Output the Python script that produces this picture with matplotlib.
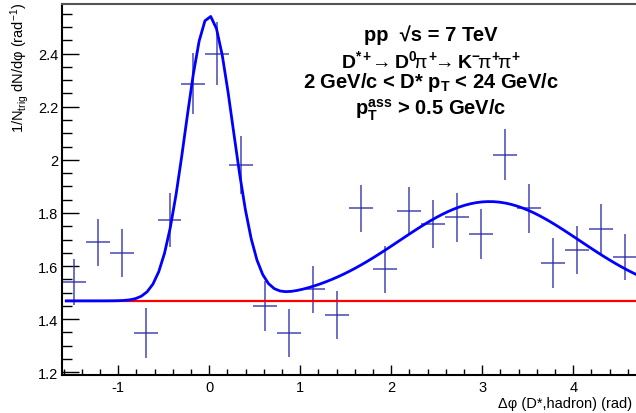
import numpy as np
import matplotlib
matplotlib.use('Agg')
import matplotlib.pyplot as plt
from matplotlib.ticker import MultipleLocator, FuncFormatter

plt.rcParams['font.family'] = ['Liberation Sans', 'DejaVu Sans']
plt.rcParams['mathtext.fontset'] = 'custom'
plt.rcParams['mathtext.rm'] = 'Liberation Sans'
plt.rcParams['mathtext.it'] = 'Liberation Sans'
plt.rcParams['mathtext.bf'] = 'Liberation Sans:bold'
plt.rcParams['axes.unicode_minus'] = False

# Data points: bin centres (rad), per-trigger yield, stat. errors
dphi = [-1.487, -1.226, -0.963, -0.699, -0.437, -0.176, 0.085, 0.348,
        0.612, 0.879, 1.143, 1.407, 1.667, 1.930, 2.194, 2.458,
        2.719, 2.982, 3.246, 3.510, 3.774, 4.037, 4.301, 4.565]
dphi_halfwidth = 0.131
yld = [1.539, 1.689, 1.648, 1.347, 1.774, 2.287, 2.400, 1.981,
       1.451, 1.348, 1.513, 1.416, 1.818, 1.588, 1.807, 1.759,
       1.783, 1.720, 2.020, 1.817, 1.611, 1.661, 1.739, 1.634]
yld_err = [0.087, 0.088, 0.090, 0.094, 0.102, 0.116, 0.119, 0.110,
           0.094, 0.090, 0.089, 0.089, 0.088, 0.088, 0.091, 0.091,
           0.092, 0.095, 0.097, 0.094, 0.093, 0.091, 0.093, 0.088]

# Fit: baseline + near-side gaussian + away-side gaussian
baseline = 1.469
ns_amp, ns_mean, ns_sigma = 1.07, 0.0, 0.26
as_amp, as_mean, as_sigma = 0.374, 3.08, 0.99
fit_range = (-np.pi / 2, 3 * np.pi / 2)


def fit_func(x):
    return (baseline
            + ns_amp * np.exp(-0.5 * ((x - ns_mean) / ns_sigma) ** 2)
            + as_amp * np.exp(-0.5 * ((x - as_mean) / as_sigma) ** 2))


fig = plt.figure(figsize=(6.36, 4.14), dpi=100)
ax = fig.add_axes([62.3 / 636, 38.3 / 414, (636 - 62.3) / 636, 370.7 / 414])

ax.errorbar(dphi, yld, xerr=dphi_halfwidth, yerr=yld_err, fmt='none',
            ecolor='#2a2aa8', elinewidth=1.2, alpha=0.8, capsize=0)

xf = np.linspace(fit_range[0], fit_range[1], 100)
ax.plot(xf, np.full_like(xf, baseline), color='red', lw=1.6)
ax.plot(xf, fit_func(xf), color='blue', lw=2.0)

ax.set_xlim(-1.615, 4.689)
ax.set_ylim(1.191, 2.587)

ax.xaxis.set_major_locator(MultipleLocator(1))
ax.xaxis.set_minor_locator(MultipleLocator(0.2))
ax.yaxis.set_major_locator(MultipleLocator(0.2))
ax.yaxis.set_minor_locator(MultipleLocator(0.05))
ax.yaxis.set_major_formatter(FuncFormatter(lambda v, p: '%g' % round(v, 2)))
ax.xaxis.set_major_formatter(FuncFormatter(lambda v, p: '%g' % round(v, 2)))

ax.tick_params(which='both', direction='in', top=False, right=False,
               labelsize=10.5, width=1.0)
ax.xaxis.set_tick_params(which='major', length=7, pad=4)
ax.xaxis.set_tick_params(which='minor', length=4)
ax.yaxis.set_tick_params(which='major', length=12.5, pad=3)
ax.yaxis.set_tick_params(which='minor', length=7)

ax.spines['left'].set_linewidth(1.5)
ax.spines['bottom'].set_linewidth(1.5)
ax.spines['top'].set_linewidth(1.5)
ax.spines['top'].set_color('#555555')
ax.spines['right'].set_visible(False)

fig.text(20 / 636, 1 - 3 / 414, r'1/N$_{\mathrm{trig}}$ dN/dφ (rad$^{\mathrm{-1}}$)',
         rotation=90, ha='center', va='top', fontsize=10.5)
fig.text(632 / 636, 1 - 404 / 414, 'Δφ (D*,hadron) (rad)',
         ha='right', va='center', fontsize=10.5)

cx = 431 / 636
fig.text(cx, 1 - 41 / 414, 'pp  √s = 7 TeV', ha='center', va='baseline',
         fontsize=14.5, fontweight='bold')
fig.text(cx, 1 - 68.5 / 414,
         r'D$^{\mathbf{*+}}\!\!\rightarrow\!\!$ D$^{\mathbf{0}}\!\pi^{\mathbf{+}}\!\!\rightarrow\!\!$ K$^{\mathbf{-}}\!\pi^{\mathbf{+}}\!\pi^{\mathbf{+}}$',
         ha='center', va='baseline', fontsize=14, fontweight='bold')
fig.text(cx, 1 - 87.7 / 414, r'2 GeV/c < D* p$_{\mathbf{T}}$ < 24 GeV/c',
         ha='center', va='baseline', fontsize=14.5, fontweight='bold')
fig.text(cx, 1 - 115 / 414, r'p$_{\mathbf{T}}^{\mathbf{ass}}$ > 0.5 GeV/c',
         ha='center', va='baseline', fontsize=14.5, fontweight='bold')

fig.savefig('out.png', dpi=100)
